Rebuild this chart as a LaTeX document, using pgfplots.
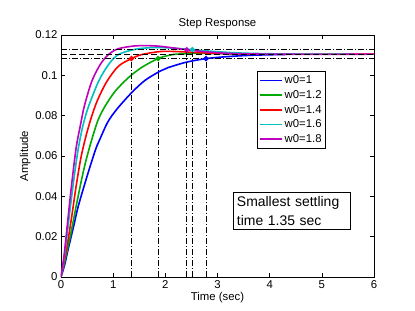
\documentclass[border=0pt]{standalone}
\usepackage{fontspec}
\setmainfont{Liberation Sans}
\usepackage{pgfplots}
\pgfplotsset{compat=1.18}
\definecolor{mblue}{RGB}{0,0,255}
\definecolor{mgreen}{RGB}{0,170,0}
\definecolor{mred}{RGB}{255,0,0}
\definecolor{mcyan}{RGB}{0,191,191}
\definecolor{mmag}{RGB}{191,0,191}
\tikzset{mdashdot/.style={black, line width=0.6bp, dash pattern=on 6bp off 2bp on 1bp off 2bp}}
\begin{document}
\begin{tikzpicture}
\useasboundingbox (-61bp,-34bp) rectangle (354bp,277bp);
\begin{axis}[
  at={(0,0)}, anchor=south west,
  scale only axis, width=313bp, height=242bp,
  xmin=0, xmax=6, ymin=0, ymax=0.12,
  xtick={0,1,2,3,4,5,6},
  ytick={0,0.02,0.04,0.06,0.08,0.1,0.12},
  scaled y ticks=false,
  yticklabel style={/pgf/number format/fixed,/pgf/number format/precision=2},
  /pgf/number format/assume math mode=true,
  tick align=inside, tick pos=both,
  major tick length=4bp,
  tick style={black, line width=0.6bp},
  axis line style={black, line width=0.6bp},
  font=\fontsize{11.4}{13}\selectfont,
  title={Step Response},
  title style={yshift=-3bp},
  xlabel={Time (sec)},
  ylabel={Amplitude},
  xlabel style={yshift=3bp},
  ylabel style={yshift=-2bp},
  legend style={at={(0.626,0.851)}, anchor=north west,
    font=\fontsize{11.4}{13}\selectfont, inner sep=2bp,
    nodes={inner sep=2pt, inner ysep=2.6bp, text depth=0.15em}},
  legend cell align=left,
  legend image code/.code={\draw[mark repeat=2,mark phase=2,#1, line width=1.5bp] plot coordinates {(0bp,0bp) (11bp,0bp) (22bp,0bp)};},
  every axis plot/.append style={line width=1.6bp},
]
% curves
\addplot[color=mblue, smooth] coordinates {
(0,0) (0.07,0.006) (0.134,0.0134) (0.25,0.026) (0.33,0.035) (0.5,0.050) (0.66,0.063) (0.74,0.068) (0.9,0.077) (1.08,0.0835) (1.35,0.0913) (1.61,0.0975) (1.9,0.1021) (2.05,0.1038) (2.4,0.1065) (2.78,0.1083) (3.2,0.1093) (3.6,0.1099) (4.0,0.1102) (4.3,0.1103)};
\addlegendentry{w0=1}
\addplot[color=mgreen, smooth] coordinates {
(0,0) (0.1,0.011) (0.2,0.023) (0.29,0.035) (0.4,0.049) (0.49,0.0589) (0.6,0.069) (0.71,0.0778) (0.84,0.0845) (1.035,0.092) (1.29,0.0988) (1.55,0.1040) (1.86,0.1083) (2.05,0.1098) (2.22,0.1105) (2.6,0.1109) (3.0,0.1108) (3.5,0.1106) (4.3,0.1105)};
\addlegendentry{w0=1.2}
\addplot[color=mred, smooth] coordinates {
(0,0) (0.1,0.013) (0.2,0.029) (0.29,0.045) (0.38,0.0589) (0.48,0.070) (0.58,0.079) (0.7,0.0877) (0.88,0.097) (1.1,0.1045) (1.35,0.1083) (1.55,0.1103) (1.9,0.1118) (2.2,0.1118) (2.6,0.1113) (3.0,0.1109) (3.5,0.1106) (4.5,0.1105) (6,0.1105)};
\addlegendentry{w0=1.4}
\addplot[color=mcyan, smooth] coordinates {
(0,0) (0.08,0.013) (0.18,0.0349) (0.27,0.053) (0.34,0.065) (0.42,0.075) (0.52,0.084) (0.72,0.097) (0.91,0.1053) (1.1,0.1103) (1.42,0.1129) (1.7,0.1137) (1.9,0.1138) (2.2,0.1134) (2.52,0.1127) (2.9,0.1119) (3.4,0.1111) (4.0,0.1107) (4.8,0.1105) (5.6,0.1105)};
\addlegendentry{w0=1.6}
\addplot[color=mmag, smooth] coordinates {
(0,0) (0.06,0.011) (0.13,0.028) (0.2,0.045) (0.29,0.064) (0.37,0.075) (0.45,0.085) (0.59,0.097) (0.75,0.1053) (0.91,0.1103) (1.1,0.1132) (1.42,0.1146) (1.7,0.1147) (1.9,0.1144) (2.15,0.1136) (2.41,0.1127) (2.8,0.1116) (3.3,0.1108) (4,0.1105) (5,0.1104) (6,0.1105)};
\addlegendentry{w0=1.8}
% settling bands
\addplot[mdashdot, forget plot] coordinates {(0,0.1127) (6,0.1127)};
\addplot[mdashdot, forget plot] coordinates {(0,0.1083) (6,0.1083)};
\addplot[black, line width=0.6bp, dash pattern=on 6bp off 3bp, forget plot] coordinates {(0,0.1105) (6,0.1105)};
% settling time verticals
\addplot[mdashdot, forget plot] coordinates {(1.35,0) (1.35,0.1083)};
\addplot[mdashdot, forget plot] coordinates {(1.86,0) (1.86,0.1083)};
\addplot[mdashdot, forget plot] coordinates {(2.41,0) (2.41,0.1127)};
\addplot[mdashdot, forget plot] coordinates {(2.52,0) (2.52,0.1127)};
\addplot[mdashdot, forget plot] coordinates {(2.78,0) (2.78,0.1083)};
% markers
\addplot[only marks, mark=*, mark size=1.8bp, mblue, forget plot] coordinates {(2.78,0.1083)};
\addplot[only marks, mark=*, mark size=1.8bp, mgreen, forget plot] coordinates {(1.86,0.1083)};
\addplot[only marks, mark=*, mark size=1.8bp, mred, forget plot] coordinates {(1.35,0.1083)};
\addplot[only marks, mark=*, mark size=1.8bp, mcyan, forget plot] coordinates {(2.52,0.1127)};
\addplot[only marks, mark=*, mark size=1.8bp, mmag, forget plot] coordinates {(2.41,0.1127)};
\node[draw=black, line width=0.6bp, fill=white, anchor=north west, align=left, text width=110bp, inner xsep=3.5bp, inner ysep=4bp,
  font=\fontsize{14}{19}\selectfont] at (axis description cs:0.55,0.351) {Smallest settling\\time 1.35 sec};
\end{axis}
\end{tikzpicture}
\end{document}
